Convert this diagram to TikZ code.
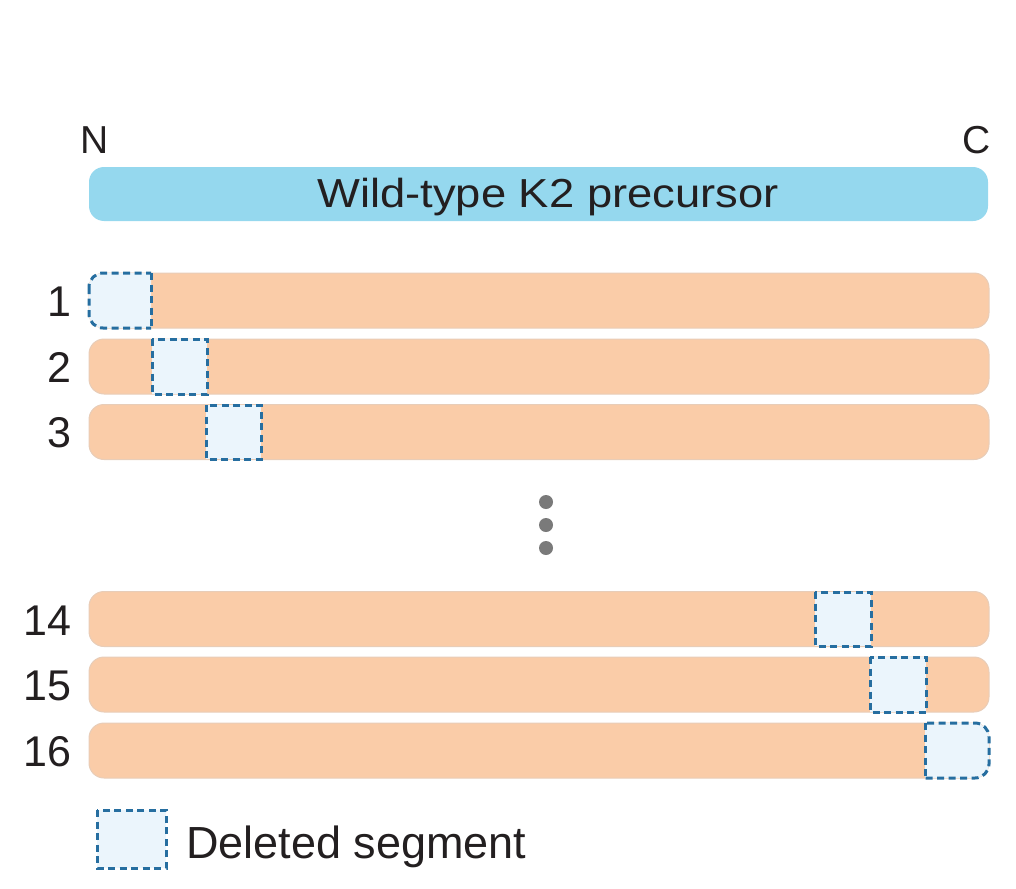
\documentclass[tikz,border=0pt]{standalone}
\usepackage{fontspec}
\setmainfont{Liberation Sans}
\newfontfamily\widesans[FakeStretch=1.12]{Liberation Sans}
\definecolor{peach}{HTML}{FACCA8}
\definecolor{peachedge}{HTML}{E8CDB8}
\definecolor{skyb}{HTML}{95D8EE}
\definecolor{delfill}{HTML}{EBF5FC}
\definecolor{deledge}{HTML}{266EA0}
\definecolor{ink}{HTML}{231F20}
\definecolor{dotgrey}{HTML}{7A7A7A}
\tikzset{
  bar/.style={draw=peachedge, line width=1pt, fill=peach, rounded corners=15pt,
    minimum width=900pt, minimum height=55pt, inner sep=0pt},
  topbar/.style={fill=skyb, rounded corners=15pt, minimum width=899pt,
    minimum height=54pt, inner sep=0pt},
  delbox/.style={draw=deledge, fill=delfill, line width=3pt, dash pattern=on 7pt off 4.5pt},
  deline/.style={draw=deledge, line width=3pt, dash pattern=on 7pt off 4.5pt},
  lbl/.style={text=ink, inner sep=0pt, font=\fontsize{43}{52}\selectfont},
  leglbl/.style={text=ink, inner sep=0pt, font=\fontsize{45}{54}\selectfont},
  endlbl/.style={text=ink, inner sep=0pt, font=\fontsize{39}{48}\selectfont},
  titlelbl/.style={text=ink, inner sep=0pt, font=\widesans\fontsize{40.5}{50}\selectfont},
  dotc/.style={fill=dotgrey}
}
\begin{document}
\begin{tikzpicture}[x=1pt,y=-1pt]
\useasboundingbox (0,0) rectangle (1016,888);
% header
\node[endlbl, anchor=base] (N) at (95,153) {N};
\node[endlbl, anchor=base] (C) at (977,153) {C};
\node[topbar] (wt) at (538.5,194) {};
\node[titlelbl, anchor=base] (wtl) at (548,207) {Wild-type K2 precursor};
% bars
\node[bar] (r1) at (539,300.5) {};
\node[bar] (r2) at (539,366.5) {};
\node[bar] (r3) at (539,432) {};
\node[bar] (r14) at (539,619) {};
\node[bar] (r15) at (539,684.5) {};
\node[bar] (r16) at (539,750.5) {};
% row labels
\node[lbl, anchor=base east] (l1) at (72,316) {1};
\node[lbl, anchor=base east] (l2) at (72,382) {2};
\node[lbl, anchor=base east] (l3) at (72,447.5) {3};
\node[lbl, anchor=base east] (l14) at (72,635) {14};
\node[lbl, anchor=base east] (l15) at (72,700.5) {15};
\node[lbl, anchor=base east] (l16) at (72,766) {16};
% deleted segments
\begin{scope}
  \clip (80,262) rectangle (151,340);
  \path[delbox, rounded corners=14pt] (89,273) rectangle (180,328);
\end{scope}
\path[deline] (151,273) -- (151,328);
\path[delbox] (152,339) rectangle (207,394);
\path[delbox] (206,405) rectangle (261,459);
\path[delbox] (815,592) rectangle (871,646);
\path[delbox] (870,657) rectangle (926,712);
\begin{scope}
  \clip (925,712) rectangle (1000,790);
  \path[delbox, rounded corners=14pt] (880,723) rectangle (989,778);
\end{scope}
\path[deline] (925,723) -- (925,778);
% ellipsis dots
\fill[dotc] (546,502) circle (7pt);
\fill[dotc] (546,525) circle (7pt);
\fill[dotc] (546,548) circle (7pt);
% legend
\path[delbox] (97,810) rectangle (166,868);
\node[leglbl, anchor=base west] (leg) at (186,858) {Deleted segment};
\end{tikzpicture}
\end{document}
